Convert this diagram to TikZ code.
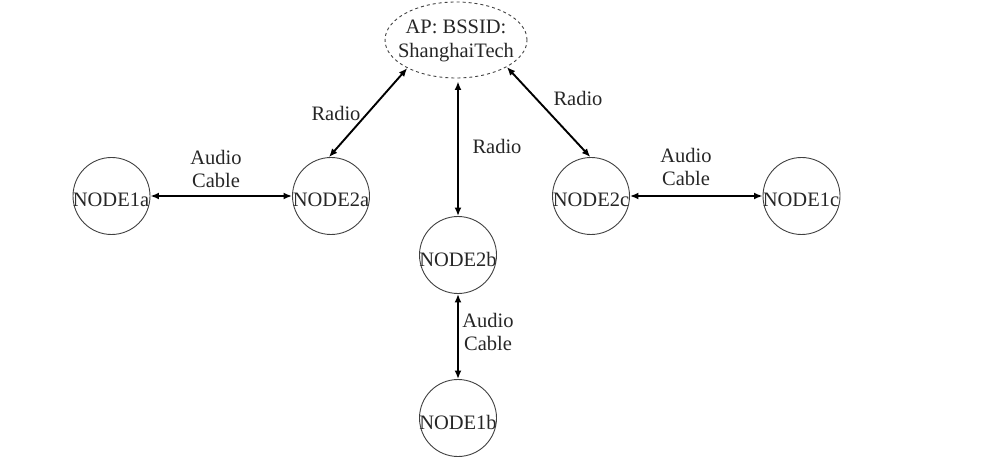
\documentclass[tikz,border=0pt]{standalone}
\usepackage{fontspec}
\setmainfont{Liberation Serif}
\usetikzlibrary{shapes.geometric,arrows.meta}
\begin{document}
\begin{tikzpicture}[x=1pt,y=-1pt,
  nodecirc/.style={circle,draw=black!75,line width=0.9pt,minimum size=77pt,inner sep=0pt},
  apell/.style={ellipse,draw=black!75,dashed,line width=0.9pt,minimum width=142pt,minimum height=76pt,inner sep=0pt},
  txt/.style={font=\fontsize{20.5}{23.5}\selectfont,text=black!85,align=center,inner sep=0pt},
  link/.style={line width=1.9pt,{Latex[length=8.5pt,width=7pt]}-{Latex[length=8.5pt,width=7pt]}}
]
\useasboundingbox (0,0) rectangle (1008,462);
\node[apell] (ap) at (456,40) {};
\node[txt] (aptxt) at (456,41) {AP: BSSID:\\ShanghaiTech};

\node[nodecirc] (n1a) at (111.5,196) {};
\node[nodecirc] (n2a) at (331,196) {};
\node[nodecirc] (n2b) at (458,255) {};
\node[nodecirc] (n1b) at (458,418) {};
\node[nodecirc] (n2c) at (591,196) {};
\node[nodecirc] (n1c) at (801.5,196) {};

\node[txt] (t1a) at (111,200) {NODE1a};
\node[txt] (t2a) at (331,200) {NODE2a};
\node[txt] (t2b) at (458,259) {NODE2b};
\node[txt] (t1b) at (458,422) {NODE1b};
\node[txt] (t2c) at (591,200) {NODE2c};
\node[txt] (t1c) at (801,200) {NODE1c};

\draw[link] (n1a.east) -- (n2a.west);
\draw[link] (n2c.east) -- (n1c.west);
\draw[link] (ap.210) -- (n2a.93);
\draw[link] (ap.332) -- (n2c.91);
\draw[link] ([yshift=-3pt]ap.south -| n2b.north) -- (n2b.north);
\draw[link] (n2b.south) -- (n1b.north);

\node[txt] (r1) at (336,113) {Radio};
\node[txt] (r2) at (497,146) {Radio};
\node[txt] (r3) at (578,98) {Radio};
\node[txt] (c1) at (216,169) {Audio\\Cable};
\node[txt] (c2) at (686,167) {Audio\\Cable};
\node[txt] (c3) at (488,332) {Audio\\Cable};
\end{tikzpicture}
\end{document}
